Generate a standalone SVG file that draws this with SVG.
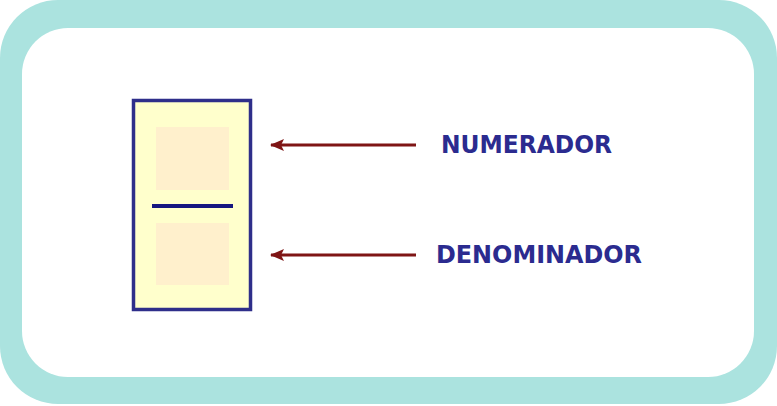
<svg xmlns="http://www.w3.org/2000/svg" width="777" height="406" viewBox="0 0 777 406">
<style>
.lbl{font-family:"DejaVu Sans",Verdana,sans-serif;font-weight:bold;font-size:24px;fill:#2B2B8F}
.arr{stroke:#7F1515;stroke-width:3;fill:none}
</style>
<defs>
<marker id="ah" markerWidth="14" markerHeight="12" refX="13" refY="6" orient="auto" markerUnits="userSpaceOnUse">
<path d="M0,0 L14,6 L0,12 L3,6 Z" fill="#7F1515"/>
</marker>
</defs>
<rect x="0" y="0" width="777" height="404" rx="58" fill="#ABE3DF"/>
<rect x="22" y="28" width="732" height="349" rx="46" fill="#FFFFFF"/>
<g id="fraction">
<rect x="133.5" y="100.5" width="117" height="209" fill="#FFFFCC" stroke="#2E2E8A" stroke-width="3.5"/>
<rect x="156" y="127" width="73" height="63" fill="#FFF0CC"/>
<rect x="156" y="223" width="73" height="62" fill="#FFF0CC"/>
<line x1="152" y1="206" x2="233" y2="206" stroke="#16167F" stroke-width="4"/>
</g>
<g id="connectors">
<line class="arr" x1="416" y1="145" x2="271" y2="145" marker-end="url(#ah)"/>
<line class="arr" x1="416" y1="255" x2="271" y2="255" marker-end="url(#ah)"/>
</g>
<g id="numerador"><text class="lbl" x="441" y="153" textLength="171" lengthAdjust="spacingAndGlyphs">NUMERADOR</text></g>
<g id="denominador"><text class="lbl" x="436" y="263" textLength="206" lengthAdjust="spacingAndGlyphs">DENOMINADOR</text></g>
</svg>
